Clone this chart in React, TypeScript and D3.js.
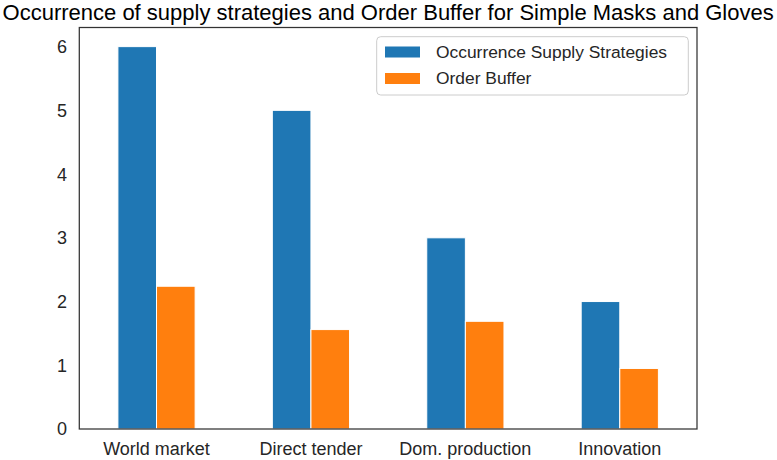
import React from "react";
import * as d3 from "d3";

const categories = ["World market", "Direct tender", "Dom. production", "Innovation"];
const occurrence = [6, 5, 3, 2];
const orderBuffer = [2.24, 1.56, 1.69, 0.95];
const seriesNames = ["Occurrence Supply Strategies", "Order Buffer"];
const yTicks = [0, 1, 2, 3, 4, 5, 6];
const colors = ["#1f77b4", "#ff7f0e"];
const title = "Occurrence of supply strategies and Order Buffer for Simple Masks and Gloves";

const W = 777, H = 460;
const M = { left: 79.3, right: 697, top: 27.5, bottom: 429 };
const FONT = "'Liberation Sans', Arial, sans-serif";
const TXT = "#262626";

export default function App() {
  const x = d3.scaleLinear().domain([-0.5, categories.length - 0.5]).range([M.left, M.right]);
  const y = d3.scaleLinear().domain([0, 6.3]).range([M.bottom, M.top]);
  const bw = 0.25;
  const series = [occurrence, orderBuffer];

  return (
    <svg width={W} height={H} style={{ position: "absolute", left: 0, top: 0, background: "#fff" }} fontFamily={FONT}>
      <rect x={0} y={0} width={W} height={H} fill="#fff" />
      {series.map((vals, si) =>
        vals.map((v, i) => {
          const x0 = x(i - bw + si * bw);
          const x1 = x(i + si * bw);
          return (
            <rect key={`${si}-${i}`} x={x0} y={y(v)} width={x1 - x0} height={y(0) - y(v)}
              fill={colors[si]} stroke="#fff" strokeWidth={1} />
          );
        })
      )}
      <rect x={M.left} y={M.top} width={M.right - M.left} height={M.bottom - M.top}
        fill="none" stroke="#333" strokeWidth={1.25} />
      {yTicks.map((t) => (
        <text key={t} x={67} y={y(t)} dy="0.36em" textAnchor="end" fontSize={18} fill={TXT}>{t}</text>
      ))}
      {categories.map((c, i) => (
        <text key={c} x={x(i)} y={455} textAnchor="middle" fontSize={18} fill={TXT}>{c}</text>
      ))}
      <text x={(M.left + M.right) / 2} y={19.5} textAnchor="middle" fontSize={22} fill="#000">{title}</text>
      <g>
        <rect x={376.7} y={36.7} width={311.6} height={58.3} rx={4} fill="#fff" fillOpacity={0.8} stroke="#cccccc" strokeWidth={1} />
        {seriesNames.map((s, i) => (
          <g key={s}>
            <rect x={385} y={46.5 + i * 26.5} width={35} height={11} fill={colors[i]} />
            <text x={436} y={57.5 + i * 26.5} fontSize={17.4} fill={TXT}>{s}</text>
          </g>
        ))}
      </g>
    </svg>
  );
}
